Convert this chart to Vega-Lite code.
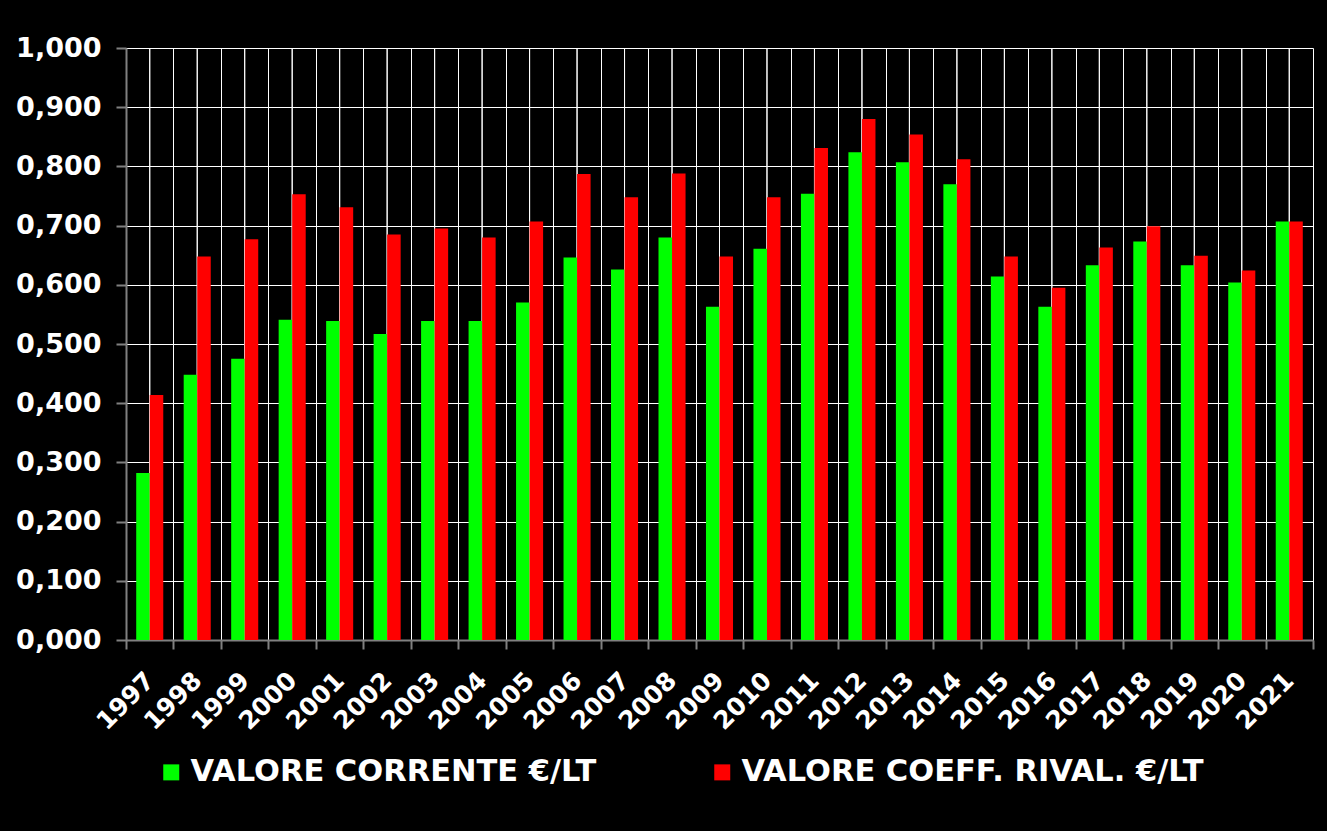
{
  "$schema": "https://vega.github.io/schema/vega-lite/v6.json",
  "width": 1187,
  "height": 592,
  "autosize": {"type": "none"},
  "padding": {"left": 126, "top": 48, "right": 14, "bottom": 191},
  "background": "#000000",
  "config": {
    "locale": {"number": {"decimal": ",", "thousands": ".", "grouping": [3], "currency": ["€", ""]}},
    "view": {"stroke": null, "fill": "#000000"},
    "font": "DejaVu Sans"
  },
  "data": {
    "values": [
      {"anno": "1997", "serie": "VALORE CORRENTE €/LT", "valore": 0.282},
      {"anno": "1997", "serie": "VALORE COEFF. RIVAL. €/LT", "valore": 0.414},
      {"anno": "1998", "serie": "VALORE CORRENTE €/LT", "valore": 0.448},
      {"anno": "1998", "serie": "VALORE COEFF. RIVAL. €/LT", "valore": 0.648},
      {"anno": "1999", "serie": "VALORE CORRENTE €/LT", "valore": 0.475},
      {"anno": "1999", "serie": "VALORE COEFF. RIVAL. €/LT", "valore": 0.677},
      {"anno": "2000", "serie": "VALORE CORRENTE €/LT", "valore": 0.541},
      {"anno": "2000", "serie": "VALORE COEFF. RIVAL. €/LT", "valore": 0.753},
      {"anno": "2001", "serie": "VALORE CORRENTE €/LT", "valore": 0.539},
      {"anno": "2001", "serie": "VALORE COEFF. RIVAL. €/LT", "valore": 0.731},
      {"anno": "2002", "serie": "VALORE CORRENTE €/LT", "valore": 0.517},
      {"anno": "2002", "serie": "VALORE COEFF. RIVAL. €/LT", "valore": 0.685},
      {"anno": "2003", "serie": "VALORE CORRENTE €/LT", "valore": 0.539},
      {"anno": "2003", "serie": "VALORE COEFF. RIVAL. €/LT", "valore": 0.695},
      {"anno": "2004", "serie": "VALORE CORRENTE €/LT", "valore": 0.539},
      {"anno": "2004", "serie": "VALORE COEFF. RIVAL. €/LT", "valore": 0.680},
      {"anno": "2005", "serie": "VALORE CORRENTE €/LT", "valore": 0.570},
      {"anno": "2005", "serie": "VALORE COEFF. RIVAL. €/LT", "valore": 0.707},
      {"anno": "2006", "serie": "VALORE CORRENTE €/LT", "valore": 0.646},
      {"anno": "2006", "serie": "VALORE COEFF. RIVAL. €/LT", "valore": 0.787},
      {"anno": "2007", "serie": "VALORE CORRENTE €/LT", "valore": 0.626},
      {"anno": "2007", "serie": "VALORE COEFF. RIVAL. €/LT", "valore": 0.748},
      {"anno": "2008", "serie": "VALORE CORRENTE €/LT", "valore": 0.680},
      {"anno": "2008", "serie": "VALORE COEFF. RIVAL. €/LT", "valore": 0.788},
      {"anno": "2009", "serie": "VALORE CORRENTE €/LT", "valore": 0.563},
      {"anno": "2009", "serie": "VALORE COEFF. RIVAL. €/LT", "valore": 0.648},
      {"anno": "2010", "serie": "VALORE CORRENTE €/LT", "valore": 0.661},
      {"anno": "2010", "serie": "VALORE COEFF. RIVAL. €/LT", "valore": 0.748},
      {"anno": "2011", "serie": "VALORE CORRENTE €/LT", "valore": 0.754},
      {"anno": "2011", "serie": "VALORE COEFF. RIVAL. €/LT", "valore": 0.831},
      {"anno": "2012", "serie": "VALORE CORRENTE €/LT", "valore": 0.824},
      {"anno": "2012", "serie": "VALORE COEFF. RIVAL. €/LT", "valore": 0.880},
      {"anno": "2013", "serie": "VALORE CORRENTE €/LT", "valore": 0.807},
      {"anno": "2013", "serie": "VALORE COEFF. RIVAL. €/LT", "valore": 0.854},
      {"anno": "2014", "serie": "VALORE CORRENTE €/LT", "valore": 0.770},
      {"anno": "2014", "serie": "VALORE COEFF. RIVAL. €/LT", "valore": 0.812},
      {"anno": "2015", "serie": "VALORE CORRENTE €/LT", "valore": 0.614},
      {"anno": "2015", "serie": "VALORE COEFF. RIVAL. €/LT", "valore": 0.648},
      {"anno": "2016", "serie": "VALORE CORRENTE €/LT", "valore": 0.563},
      {"anno": "2016", "serie": "VALORE COEFF. RIVAL. €/LT", "valore": 0.595},
      {"anno": "2017", "serie": "VALORE CORRENTE €/LT", "valore": 0.633},
      {"anno": "2017", "serie": "VALORE COEFF. RIVAL. €/LT", "valore": 0.663},
      {"anno": "2018", "serie": "VALORE CORRENTE €/LT", "valore": 0.673},
      {"anno": "2018", "serie": "VALORE COEFF. RIVAL. €/LT", "valore": 0.699},
      {"anno": "2019", "serie": "VALORE CORRENTE €/LT", "valore": 0.633},
      {"anno": "2019", "serie": "VALORE COEFF. RIVAL. €/LT", "valore": 0.649},
      {"anno": "2020", "serie": "VALORE CORRENTE €/LT", "valore": 0.604},
      {"anno": "2020", "serie": "VALORE COEFF. RIVAL. €/LT", "valore": 0.624},
      {"anno": "2021", "serie": "VALORE CORRENTE €/LT", "valore": 0.707},
      {"anno": "2021", "serie": "VALORE COEFF. RIVAL. €/LT", "valore": 0.707}
    ]
  },
  "layer": [
    {
      "mark": {"type": "rule", "color": "#FFFFFF", "strokeWidth": 1},
      "encoding": {
        "x": {"field": "anno", "type": "ordinal"}
      }
    },
    {
      "mark": {"type": "bar"},
      "encoding": {
        "x": {
          "field": "anno",
          "type": "ordinal",
          "title": null,
          "scale": {"paddingInner": 0, "paddingOuter": 0},
          "axis": {
            "tickBand": "extent",
            "grid": true,
            "gridColor": "#FFFFFF",
            "gridWidth": 1,
            "gridOpacity": 1,
            "domainColor": "#808080",
            "domainWidth": 2,
            "tickColor": "#808080",
            "tickWidth": 2,
            "tickSize": 9,
            "labelAngle": -45,
            "labelAlign": "right",
            "labelBaseline": "middle",
            "labelPadding": 27,
            "labelColor": "#FFFFFF",
            "labelFont": "DejaVu Sans",
            "labelFontWeight": "bold",
            "labelFontSize": 25
          }
        },
        "xOffset": {
          "field": "serie",
          "type": "nominal",
          "sort": ["VALORE CORRENTE €/LT", "VALORE COEFF. RIVAL. €/LT"],
          "scale": {"paddingInner": 0, "paddingOuter": 0.755}
        },
        "y": {
          "field": "valore",
          "type": "quantitative",
          "title": null,
          "scale": {"domain": [0, 1], "nice": false},
          "axis": {
            "values": [0, 0.1, 0.2, 0.3, 0.4, 0.5, 0.6, 0.7, 0.8, 0.9, 1.0],
            "format": ".3f",
            "grid": true,
            "gridColor": "#FFFFFF",
            "gridWidth": 1,
            "gridOpacity": 1,
            "domainColor": "#808080",
            "domainWidth": 2,
            "tickColor": "#808080",
            "tickWidth": 2,
            "tickSize": 10,
            "labelPadding": 15,
            "labelColor": "#FFFFFF",
            "labelFont": "DejaVu Sans",
            "labelFontWeight": "bold",
            "labelFontSize": 27
          }
        },
        "color": {
          "field": "serie",
          "type": "nominal",
          "scale": {
            "domain": ["VALORE CORRENTE €/LT", "VALORE COEFF. RIVAL. €/LT"],
            "range": ["#00FF00", "#FF0000"]
          },
          "legend": {
            "title": null,
            "orient": "none",
            "legendX": 30,
            "legendY": 709,
            "direction": "horizontal",
            "columns": 2,
            "columnPadding": 110,
            "padding": 0,
            "symbolType": "square",
            "symbolSize": 256,
            "symbolStrokeWidth": 0,
            "symbolOpacity": 1,
            "labelOffset": 4,
            "labelColor": "#FFFFFF",
            "labelFont": "DejaVu Sans",
            "labelFontWeight": "bold",
            "labelFontSize": 30.5,
            "labelLimit": 600
          }
        }
      }
    }
  ]
}
